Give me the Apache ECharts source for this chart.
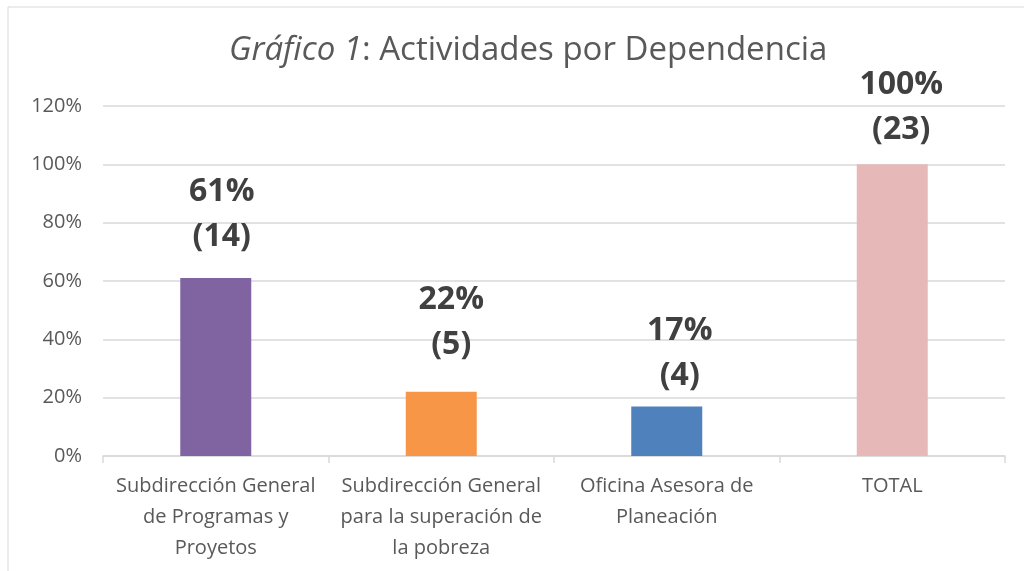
<!DOCTYPE html>
<html>
<head>
<meta charset="utf-8">
<script src="https://cdn.jsdelivr.net/npm/echarts@6/dist/echarts.min.js"></script>
<style>
  html, body { margin: 0; padding: 0; background: #fff; }
  #chart { width: 1024px; height: 571px; }
</style>
</head>
<body>
<div id="chart"></div>
<script>
// datos del gráfico
const categories = [
  'Subdirección General\nde Programas y\nProyetos',
  'Subdirección General\npara la superación de\nla pobreza',
  'Oficina Asesora de\nPlaneación',
  'TOTAL'
];
const percentages = [61, 22, 17, 100];
const counts = [14, 5, 4, 23];
const barColors = ['#8064A2', '#F79646', '#4F81BD', '#E6B9B8'];
const yTicks = [0, 20, 40, 60, 80, 100, 120];

// ajuste manual de etiquetas (como en el original) [dx, distancia]
const labelNudge = [[6, 19], [10, 24], [13, 8], [9, 12]];

const chart = echarts.init(document.getElementById('chart'));

chart.setOption({
  backgroundColor: '#fff',
  animation: false,
  textStyle: { fontFamily: '"Open Sans", sans-serif' },
  graphic: [
    {
      type: 'rect',
      shape: { x: 8, y: 7, width: 1040, height: 620 },
      style: { fill: 'none', stroke: '#d9d9d9', lineWidth: 1 },
      silent: true,
    },
  ],
  title: {
    text: '{i|Gráfico 1}{n|: Actividades por Dependencia}',
    left: 224,
    top: 29,
    textStyle: {
      rich: {
        i: { fontStyle: 'italic', fontWeight: 'normal', fontSize: 33, color: '#595959', fontFamily: '"Open Sans", sans-serif' },
        n: { fontWeight: 'normal', fontSize: 33, color: '#595959', fontFamily: '"Open Sans", sans-serif' },
      },
    },
  },
  grid: {
    left: 103,
    right: 19,
    top: 106,
    bottom: 115,
    containLabel: false,
  },
  xAxis: {
    type: 'category',
    data: categories,
    axisLine: { lineStyle: { color: '#d9d9d9', width: 1.5 } },
    axisTick: { show: true, length: 7, lineStyle: { color: '#d9d9d9', width: 1.5 } },
    axisLabel: {
      color: '#595959',
      fontSize: 20,
      lineHeight: 31,
      margin: 15,
      interval: 0,
    },
  },
  yAxis: {
    type: 'value',
    min: yTicks[0],
    max: yTicks[yTicks.length - 1],
    interval: 20,
    axisLine: { show: false },
    axisTick: { show: false },
    splitLine: { lineStyle: { color: '#d9d9d9', width: 1.5 } },
    axisLabel: {
      color: '#595959',
      fontSize: 20,
      margin: 21,
      formatter: '{value}%',
    },
  },
  series: [
    {
      type: 'bar',
      barWidth: 71,
      data: percentages.map((v, i) => ({
        value: v,
        itemStyle: { color: barColors[i] },
        label: {
          offset: [labelNudge[i][0], 0],
          distance: labelNudge[i][1],
        },
      })),
      label: {
        show: true,
        position: 'top',
        fontSize: 32,
        fontWeight: 'bold',
        color: '#404040',
        lineHeight: 45,
        align: 'center',
        formatter: (p) => `${percentages[p.dataIndex]}%\n(${counts[p.dataIndex]})`,
      },
    },
  ],
});
</script>
</body>
</html>
